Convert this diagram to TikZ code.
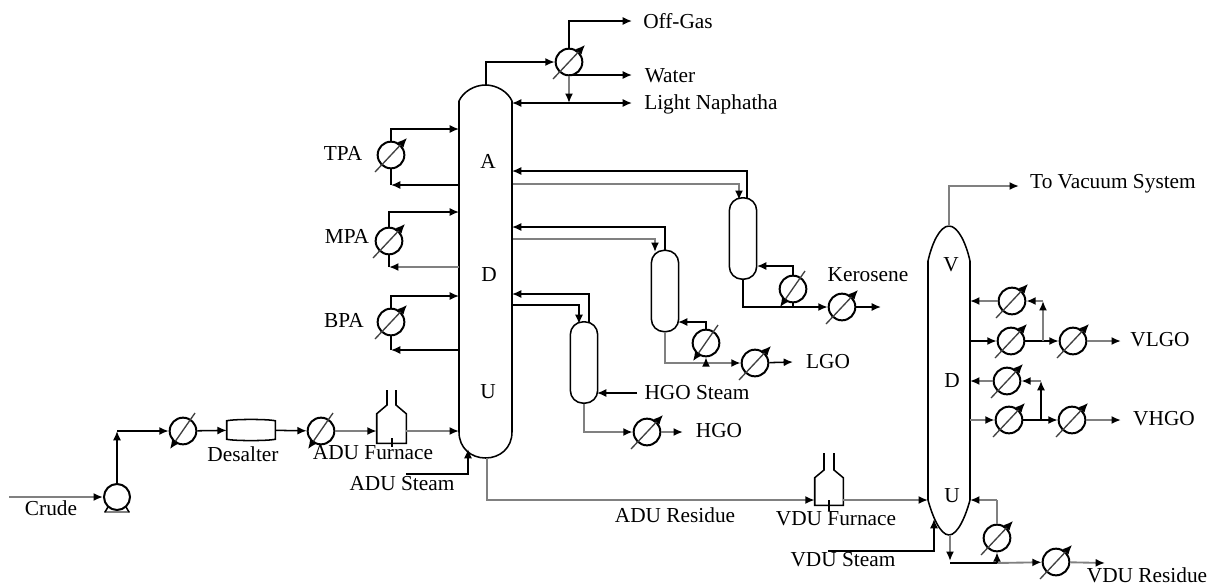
\documentclass[tikz,border=0pt]{standalone}
\usepackage{fontspec}
\setmainfont{Liberation Serif}
\usetikzlibrary{arrows.meta}
\tikzset{
  x=0.75pt,y=-0.75pt,
  line/.style={draw=black,line width=1.15pt},
  pale/.style={draw=black!50,line width=1.4pt},
  flow/.style={line,-{Latex[length=7pt,width=6pt,black]}},
  paleflow/.style={pale,-{Latex[length=7pt,width=6pt,black]}},
  hxnode/.style={circle,draw=black,line width=1.5pt,minimum size=20pt,inner sep=0pt,fill=white},
  hxarrow/.style={draw=black!75,line width=1pt,-{Latex[length=7pt,width=6pt,black]}},
  stripper/.style={rectangle,draw=black,line width=1.15pt,rounded corners=9.5pt,minimum width=20.5pt,minimum height=61pt,inner sep=0pt},
  vessel/.style={rectangle,draw=none,inner sep=0pt},
  box/.style={rectangle,draw=black,line width=1.05pt,inner sep=0pt},
  lbl/.style={inner sep=0pt,font=\fontsize{16pt}{18pt}\selectfont,text=black}
}
\newcommand{\hxf}[3]{\node[hxnode] (#1) at (#2,#3) {};
  \draw[hxarrow] ([shift={(-16,17)}]#1.center) -- ([shift={(16,-17)}]#1.center);}
\newcommand{\hxb}[3]{\node[hxnode] (#1) at (#2,#3) {};
  \draw[hxarrow] ([shift={(12,-18)}]#1.center) -- ([shift={(-13,18)}]#1.center);}
\begin{document}
\begin{tikzpicture}
\useasboundingbox (0,0) rectangle (1211,587);
% ---------- vessels
\node[vessel,minimum width=39.75pt,minimum height=279.75pt] (adu) at (485.5,271.5) {};
\draw[line] (459,101) .. controls (463,92) and (474,85) .. (485.5,85) .. controls (497,85) and (508,92) .. (512,101) -- (512,432)
  .. controls (512,448) and (500,458) .. (485.5,458) .. controls (471,458) and (459,448) .. (459,432) -- cycle;
\node[vessel,minimum width=30.75pt,minimum height=232.5pt] (vdu) at (949,380.5) {};
\draw[line] (928,261) .. controls (932,243) and (940,226) .. (949,226) .. controls (958,226) and (966,243) .. (970,261) -- (970,500)
  .. controls (966,515) and (958,535) .. (949,535) .. controls (940,535) and (932,515) .. (928,500) -- cycle;
\node[stripper] (kero) at (743,238.5) {};
\node[stripper] (lgo) at (665,291) {};
\node[stripper] (hgo) at (584,362.5) {};
% ---------- pump
\node[circle,draw=black,line width=1.5pt,minimum size=19.5pt,inner sep=0pt] (pump) at (117,497) {};
\draw[pale] (104,512) -- (130,512);
\draw[line] (108,507) -- (105,512) (126,507) -- (129,512);
% ---------- exchangers
\hxb{hxa}{183}{431}
\hxb{hxb}{321}{431}
\hxf{hxoh}{569}{62}
\hxf{hxtpa}{391}{155}
\hxf{hxmpa}{389}{241}
\hxf{hxbpa}{391}{322}
\hxb{hxk}{793}{289}
\hxf{hxkp}{842}{307}
\hxb{hxl}{706}{343}
\hxf{hxlp}{755}{363}
\hxf{hxhp}{647}{432}
\hxf{hxva}{1012}{301}
\hxf{hxvb}{1011}{341}
\hxf{hxvp}{1073}{341}
\hxf{hxvc}{1007}{381}
\hxf{hxvd}{1009}{420}
\hxf{hxvq}{1072}{420}
\hxf{hxvr}{997}{538}
\hxf{hxvs}{1056}{562}
% ---------- desalter and furnaces
\node[vessel,minimum width=36pt,minimum height=13.5pt] (des) at (251,430) {};
\draw[line] (des.north west) .. controls (235,419) and (267,419) .. (des.north east) -- (des.south east) .. controls (267,441) and (235,441) .. (des.south west) -- cycle;
\node[vessel,minimum width=21.75pt,minimum height=21.75pt] (fa) at (391.5,428.5) {};
\draw[line] (387,390) -- (387,405) -- (fa.north west) -- (fa.south west) -- (fa.south east) -- (fa.north east) -- (396,405) -- (396,390);
\draw[line] (392,438) -- (392,447);
\node[vessel,minimum width=21pt,minimum height=20.25pt] (fb) at (829,491.5) {};
\draw[line] (824,453) -- (824,470) -- (fb.north west) -- (fb.south west) -- (fb.south east) -- (fb.north east) -- (834,470) -- (834,453);
\draw[line] (829,500) -- (829,511);
% ---------- free ends and bends
\coordinate (crude) at (9,497);
\coordinate (bend1) at (117,431);
\coordinate (aduin) at (459,431);
\coordinate (stm0) at (406,474);
\coordinate (stmb) at (468,474);
\coordinate (stme) at (468,449);
\coordinate (aduresb) at (487,500);
\coordinate (adutop) at (486,85);
\coordinate (ohb) at (486,62);
\coordinate (offb) at (569,21);
\coordinate (offe) at (632,21);
\coordinate (wata) at (569,75);
\coordinate (wate) at (632,75);
\coordinate (naps) at (512,103);
\coordinate (nape) at (632,103);
\coordinate (napj) at (569,103);
\coordinate (tpab) at (459,129);
\coordinate (tpaa) at (459,185);
\coordinate (mpab) at (459,212);
\coordinate (mpaa) at (459,267);
\coordinate (bpab) at (459,296);
\coordinate (bpaa) at (459,350);
\coordinate (kr) at (512,171);
\coordinate (kf) at (513,184);
\coordinate (kfb) at (739,184);
\coordinate (kft) at (739,200);
\coordinate (krt) at (747,198);
\coordinate (lr) at (512,227);
\coordinate (lf) at (513,239);
\coordinate (lfb) at (655,239);
\coordinate (lft) at (655,252);
\coordinate (hr) at (512,294);
\coordinate (hf) at (513,305);
\coordinate (hfb) at (579,305);
\coordinate (hft) at (579,324);
\coordinate (hrt) at (589,323);
\coordinate (kb) at (742,307);
\coordinate (kj) at (793,307);
\coordinate (ke) at (881,307);
\coordinate (lb) at (665,363);
\coordinate (lj) at (706,363);
\coordinate (le) at (793,362);
\coordinate (hb) at (584,432);
\coordinate (he) at (683,432);
\coordinate (ks) at (757,266);
\coordinate (ls) at (678,322);
\coordinate (hsteam) at (637,393);
\coordinate (hin) at (597,393);
\coordinate (vtop) at (949,226);
\coordinate (vb) at (949,186);
\coordinate (ve) at (1019,186);
\coordinate (v1) at (970,301);
\coordinate (v2) at (970,341);
\coordinate (v3) at (970,381);
\coordinate (v4) at (970,420);
\coordinate (vj1) at (1043,341);
\coordinate (vj1t) at (1043,301);
\coordinate (vj2) at (1041,420);
\coordinate (vj2t) at (1041,381);
\coordinate (vle) at (1121,341);
\coordinate (vhe) at (1121,420);
\coordinate (vin) at (928,500);
\coordinate (vst0) at (828,551);
\coordinate (vstb) at (934,551);
\coordinate (vste) at (934,519);
\coordinate (vbot) at (950,535);
\coordinate (vbb) at (950,561);
\coordinate (vbc) at (950,563);
\coordinate (vbj) at (997,563);
\coordinate (vrb) at (997,500);
\coordinate (vre) at (970,500);
\coordinate (vrese) at (1105,563);
% ---------- connectors, feed train
\draw[paleflow] (crude) -- (pump);
\draw[flow] (pump) -- (bend1);
\draw[flow] (bend1) -- (hxa);
\draw[flow] (hxa) -- (des);
\draw[flow] (des) -- (hxb);
\draw[paleflow] (hxb) -- (fa.west |- hxb);
\draw[paleflow] (fa.east |- aduin) -- (aduin);
\draw[flow] (stm0) -- (stmb) -- (stme);
% ---------- ADU overhead and pump-arounds
\draw[flow] (adutop) -- (ohb) -- (hxoh);
\draw[flow] (hxoh) -- (offb) -- (offe);
\draw[flow] (wata) -- (wate);
\draw[paleflow] (hxoh) -- (napj);
\draw[line,{Latex[length=7pt,width=6pt]}-{Latex[length=7pt,width=6pt]}] (naps) -- (nape);
\draw[flow] (hxtpa) |- (tpab);
\draw[flow] (tpaa) -- (hxtpa.south |- tpaa);
\draw[line] (hxtpa.south |- tpaa) -- (hxtpa);
\draw[flow] (hxmpa) |- (mpab);
\draw[paleflow] (mpaa) -- (hxmpa.south |- mpaa);
\draw[line] (hxmpa.south |- mpaa) -- (hxmpa);
\draw[flow] (hxbpa) |- (bpab);
\draw[flow] (bpaa) -- (hxbpa.south |- bpaa);
\draw[line] (hxbpa.south |- bpaa) -- (hxbpa);
% ---------- strippers
\draw[flow] (krt) |- (kr);
\draw[paleflow] (kf) -- (kfb) -- (kft);
\draw[flow] (lgo.north) |- (lr);
\draw[paleflow] (lf) -- (lfb) -- (lft);
\draw[flow] (hrt) |- (hr);
\draw[flow] (hf) -- (hfb) -- (hft);
\draw[flow] (kero.south) |- (kb) -- (kj) -- (hxkp);
\draw[flow] (hxkp) -- (ke);
\draw[line] (kj) -- (hxk);
\draw[flow] (hxk) |- (ks);
\draw[paleflow] (lgo.south) |- (lb) -- (lj) -- (hxlp);
\draw[flow] (hxlp) -- (le);
\draw[flow] (lj) -- (hxl);
\draw[flow] (hxl) |- (ls);
\draw[paleflow] (hgo.south) |- (hb) -- (hxhp);
\draw[paleflow] (hxhp) -- (he);
\draw[flow] (hsteam) -- (hin);
% ---------- ADU residue and VDU
\draw[paleflow] (adu.south -| aduresb) -- (aduresb) -- (fb.west |- aduresb);
\draw[paleflow] (fb.east |- vin) -- (vin);
\draw[flow] (vst0) -- (vstb) -- (vste);
\draw[paleflow] (vtop) -- (vb) -- (ve);
\draw[paleflow] (hxva) -- (v1);
\draw[flow] (v2) -- (hxvb);
\draw[flow] (hxvb) -- (hxvp);
\draw[paleflow] (hxvp) -- (vle);
\draw[paleflow] (vj1) -- (vj1t);
\draw[paleflow] (vj1t) -- (hxva);
\draw[paleflow] (hxvc) -- (v3);
\draw[paleflow] (v4) -- (hxvd);
\draw[flow] (hxvd) -- (hxvq);
\draw[paleflow] (hxvq) -- (vhe);
\draw[flow] (vj2) -- (vj2t);
\draw[paleflow] (vj2t) -- (hxvc);
\draw[paleflow] (vbot) -- (vbb);
\draw[line] (vbc) -- (vbj);
\draw[paleflow] (vbj) -- (hxvs);
\draw[paleflow] (hxvs) -- (vrese);
\draw[flow] (vbj) -- (hxvr);
\draw[pale] (hxvr) -- (vrb);
\draw[paleflow] (vrb) -- (vre);
% ---------- labels
\node[lbl] (t1) at (51,508) {Crude};
\node[lbl] (t2) at (243,454) {Desalter};
\node[lbl] (t3) at (373,453) {ADU Furnace};
\node[lbl] (t4) at (402,484) {ADU Steam};
\node[lbl] (t5) at (678,21) {Off-Gas};
\node[lbl] (t6) at (670,76) {Water};
\node[lbl,anchor=west] (t7) at (644,104) {Light Naphatha};
\node[lbl] (t8) at (343,153) {TPA};
\node[lbl] (t9) at (347,236) {MPA};
\node[lbl] (t10) at (344,320) {BPA};
\node[lbl] (t11) at (488,161) {A};
\node[lbl] (t12) at (489,275) {D};
\node[lbl] (t13) at (488,392) {U};
\node[lbl] (t14) at (868,275) {Kerosene};
\node[lbl] (t15) at (828,362) {LGO};
\node[lbl] (t16) at (697,393) {HGO Steam};
\node[lbl] (t17) at (719,431) {HGO};
\node[lbl] (t18) at (675,515) {ADU Residue};
\node[lbl] (t19) at (836,519) {VDU Furnace};
\node[lbl] (t20) at (843,560) {VDU Steam};
\node[lbl] (t21) at (1147,575) {VDU Residue};
\node[lbl] (t22) at (1113,184) {To Vacuum System};
\node[lbl] (t23) at (951,265) {V};
\node[lbl] (t24) at (952,381) {D};
\node[lbl] (t25) at (952,496) {U};
\node[lbl] (t26) at (1160,340) {VLGO};
\node[lbl] (t27) at (1164,419) {VHGO};
\end{tikzpicture}
\end{document}
